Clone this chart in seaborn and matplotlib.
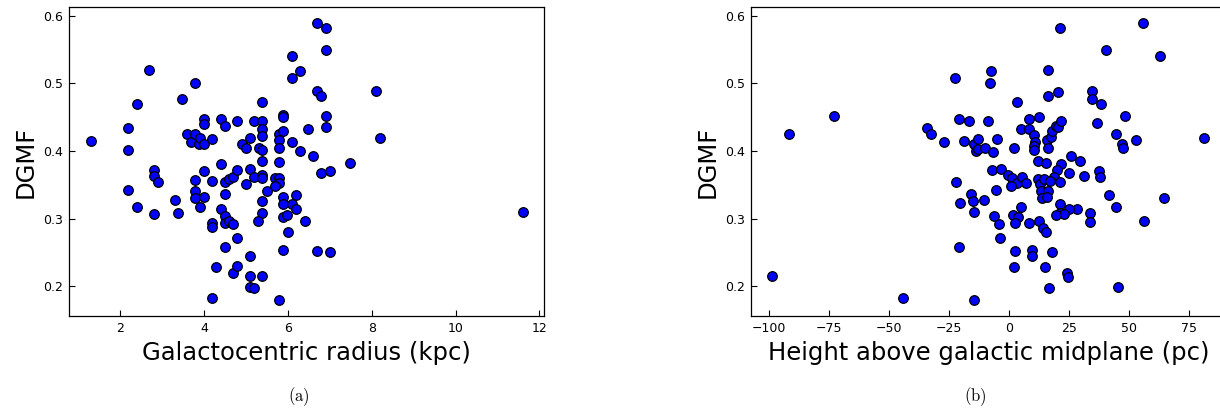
import matplotlib
matplotlib.use("Agg")
import matplotlib.pyplot as plt
import seaborn as sns
import pandas as pd

# ---- panel (a): galactocentric radius (kpc) vs DGMF ----
radius_kpc = [
    1.30, 2.20, 2.20, 2.40, 2.69, 3.49, 3.79, 3.59, 3.69, 3.80, 3.89, 3.91, 4.00, 4.00, 4.00,
    4.20, 4.40, 4.50, 4.80, 4.90, 5.00, 5.10, 5.20, 5.39, 5.39, 5.39, 5.39, 5.31, 5.39,
    5.79, 5.79, 5.79, 5.89, 5.89, 5.89, 6.09, 6.29, 6.49, 6.09, 6.29, 6.09,
    6.69, 6.90, 6.90, 6.69, 6.79, 8.10, 6.90, 6.90, 8.19, 6.60, 7.49, 6.79, 7.00, 6.69, 7.00, 11.60,
    4.40, 4.00, 4.20, 3.80, 3.80, 3.80, 4.00, 3.90, 2.80, 2.80, 2.90, 2.20, 2.40, 2.80, 3.30, 3.39,
    4.50, 4.60, 4.70, 4.80, 4.50, 4.40, 4.50, 4.50, 4.60, 4.70, 4.20, 4.20, 4.80, 4.50,
    5.00, 5.10, 5.20, 5.39, 5.39, 5.39, 5.50, 5.39, 5.39, 5.30, 5.70, 5.79, 5.79, 5.79, 5.70,
    5.89, 5.89, 5.89, 5.99, 6.10, 6.20, 6.20, 6.40, 6.00, 5.89,
    4.30, 4.70, 4.80, 5.10, 5.10, 5.39, 5.10, 5.20, 4.20, 5.79,
]
dgmf_a = [
    0.415, 0.434, 0.401, 0.469, 0.520, 0.477, 0.500, 0.425, 0.413, 0.425, 0.410, 0.419, 0.411, 0.448, 0.440,
    0.418, 0.448, 0.437, 0.444, 0.410, 0.405, 0.419, 0.444, 0.472, 0.444, 0.432, 0.422, 0.404, 0.401,
    0.425, 0.416, 0.405, 0.453, 0.450, 0.430, 0.414, 0.400, 0.432, 0.541, 0.519, 0.508,
    0.589, 0.582, 0.550, 0.489, 0.481, 0.489, 0.452, 0.435, 0.420, 0.393, 0.382, 0.368, 0.370, 0.252, 0.250, 0.310,
    0.381, 0.371, 0.356, 0.357, 0.341, 0.331, 0.332, 0.317, 0.372, 0.363, 0.354, 0.342, 0.317, 0.307, 0.328, 0.309,
    0.354, 0.359, 0.361, 0.372, 0.336, 0.314, 0.304, 0.293, 0.297, 0.292, 0.294, 0.287, 0.271, 0.258,
    0.351, 0.373, 0.361, 0.385, 0.365, 0.360, 0.341, 0.326, 0.309, 0.296, 0.360, 0.384, 0.360, 0.352, 0.349,
    0.332, 0.321, 0.303, 0.305, 0.322, 0.335, 0.314, 0.296, 0.280, 0.253,
    0.228, 0.219, 0.230, 0.245, 0.215, 0.215, 0.199, 0.198, 0.183, 0.179,
]

# ---- panel (b): height above galactic midplane (pc) vs DGMF ----
height_pc = [
    -91.5, -72.9, -22.5, -34.3, -32.4, -27.2, -21.0, -16.8, -18.6, -14.5, -12.8, -13.75, -12.8,
    -22.0, -16.0, -15.1, -20.4, -14.5, -20.7, -98.75, -44.3, -14.5,
    21.0, 55.6, 40.3, 62.9, -7.6, -7.9, 16.1, 16.1, 20.3, 3.1, 34.7, 34.7, 38.2, 48.3, 36.5, 44.6,
    47.0, 47.4, 52.8, 81.4,
    -8.6, 8.3, 12.6, 5.1, 8.5, 10.5, 11.0, 10.5, 10.5, 15.7, 17.4, 17.9, 19.6, 20.5, 21.7, 16.0,
    -10.0, -6.5, -4.9, 2.1, 12.2, 15.3, 21.5, 25.8, 29.6, 37.4, 37.9, 31.25, 25.1, 20.1, 18.5, 21.25,
    -7.0, -3.5, -0.3, 1.4, 3.2, 0.8, 5.5, 7.1, 12.2, 12.9, 14.6, 17.1, 13.2, 16.0, 13.75, 15.7,
    -5.5, -10.4,
    41.7, 44.5, 64.6, 56.0, 33.75, 33.75, 28.2, 24.9, 21.25, 21.25, 23.0, 19.5, 4.9, 1.8, 3.9, 2.5,
    -6.1, -4.2, -3.6, 8.5, 12.6, 14.0, 15.4, 2.5, 9.6, 9.6, 17.8, 2.0, 15.0, 24.3, 24.7, 16.8, 45.3,
]
dgmf_b = [
    0.425, 0.452, 0.508, 0.434, 0.425, 0.413, 0.448, 0.445, 0.415, 0.410, 0.418, 0.400, 0.403,
    0.354, 0.336, 0.326, 0.323, 0.310, 0.258, 0.215, 0.183, 0.179,
    0.582, 0.589, 0.550, 0.541, 0.519, 0.500, 0.520, 0.481, 0.488, 0.472, 0.489, 0.477, 0.469, 0.452, 0.441, 0.425,
    0.410, 0.405, 0.416, 0.419,
    0.444, 0.448, 0.450, 0.433, 0.433, 0.424, 0.414, 0.408, 0.402, 0.417, 0.421, 0.430, 0.437, 0.436, 0.444, 0.405,
    0.404, 0.399, 0.418, 0.404, 0.385, 0.382, 0.381, 0.393, 0.386, 0.370, 0.361, 0.363, 0.368, 0.372, 0.361, 0.354,
    0.372, 0.373, 0.365, 0.360, 0.352, 0.348, 0.362, 0.352, 0.359, 0.351, 0.358, 0.356, 0.341, 0.341, 0.331, 0.332,
    0.342, 0.327,
    0.335, 0.317, 0.331, 0.296, 0.309, 0.295, 0.314, 0.314, 0.321, 0.309, 0.307, 0.305, 0.317, 0.305, 0.302, 0.294,
    0.304, 0.292, 0.271, 0.293, 0.297, 0.286, 0.280, 0.252, 0.253, 0.245, 0.250, 0.229, 0.228, 0.219, 0.214, 0.198, 0.199,
]

y_ticks = [0.2, 0.3, 0.4, 0.5, 0.6]
xticks_a = [2, 4, 6, 8, 10, 12]
xticks_b = [-100, -75, -50, -25, 0, 25, 50, 75]

sns.set_style("ticks")
plt.rcParams["font.family"] = ["DejaVu Sans"]
plt.rcParams["mathtext.fontset"] = "cm"
plt.rcParams["text.color"] = "black"
plt.rcParams["axes.labelcolor"] = "black"
plt.rcParams["xtick.color"] = "black"
plt.rcParams["ytick.color"] = "black"

fig = plt.figure(figsize=(12.2, 4.11), dpi=100)
ax_a = fig.add_axes([0.05656, 0.2311, 0.3896, 0.7518])
ax_b = fig.add_axes([0.6156, 0.2311, 0.3896, 0.7518])

df_a = pd.DataFrame({"x": radius_kpc, "y": dgmf_a})
df_b = pd.DataFrame({"x": height_pc, "y": dgmf_b})

for ax, df, xticks, xlabel, xlim in [
    (ax_a, df_a, xticks_a, "Galactocentric radius (kpc)", (0.785, 12.115)),
    (ax_b, df_b, xticks_b, "Height above galactic midplane (pc)", (-107.5, 90.5)),
]:
    sns.scatterplot(data=df, x="x", y="y", ax=ax, color="#0000ff",
                    edgecolor="black", linewidth=0.9, s=48, zorder=3, legend=False)
    ax.set_xlim(*xlim)
    ax.set_ylim(0.156, 0.613)
    ax.set_xticks(xticks)
    ax.set_yticks(y_ticks)
    ax.set_yticklabels([f"{v:.1f}" for v in y_ticks])
    ax.set_xlabel(xlabel, fontsize=17.5, labelpad=4, color="black")
    ax.set_ylabel("DGMF", fontsize=17.5, labelpad=4, color="black")
    ax.tick_params(direction="in", length=4, width=0.8, labelsize=9, pad=4.5,
                   top=False, right=False, colors="black", labelcolor="black")
    for sp in ax.spines.values():
        sp.set_visible(True)
        sp.set_color("black")
        sp.set_linewidth(0.9)

fig.text(299 / 1220, 1 - 397 / 411, r"$\mathrm{(a)}$", fontsize=12, ha="center", va="center",
         color="black")
fig.text(975 / 1220, 1 - 397 / 411, r"$\mathrm{(b)}$", fontsize=12, ha="center", va="center",
         color="black")

fig.savefig("out.png", dpi=100)
